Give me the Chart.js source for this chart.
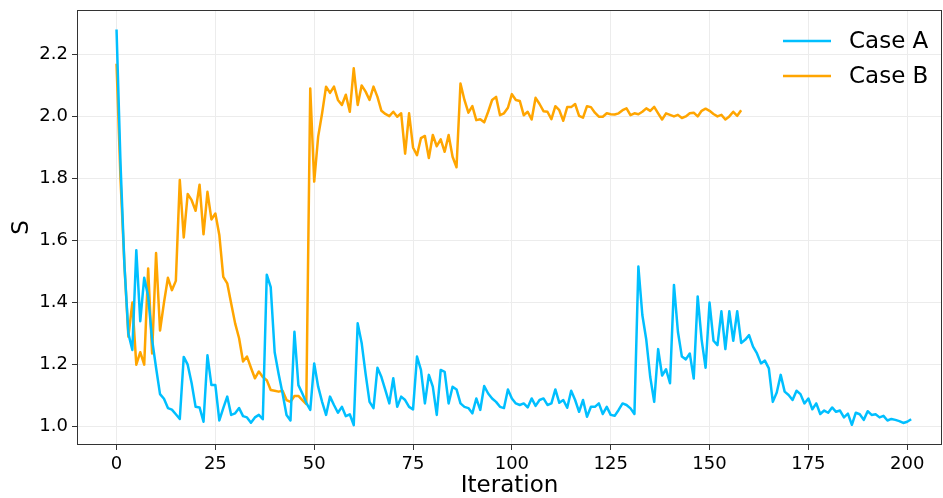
<!DOCTYPE html>
<html>
<head>
<meta charset="utf-8">
<script src="https://cdn.jsdelivr.net/npm/chart.js@4/dist/chart.umd.min.js"></script>
<style>
  html, body { margin: 0; padding: 0; background: #fff; }
  #wrap { width: 943px; height: 498px; position: relative; }
</style>
</head>
<body>
<div id="wrap"><canvas id="c" width="943" height="498"></canvas></div>
<script>
// ---- data ----
const seriesNames = ["Case A", "Case B"];
const caseA = [
  2.28, 1.85, 1.52, 1.30, 1.247, 1.569, 1.34, 1.48, 1.42, 1.28,
  1.19, 1.105, 1.09, 1.06, 1.055, 1.04, 1.025, 1.225, 1.20, 1.14,
  1.064, 1.062, 1.016, 1.23, 1.134, 1.134, 1.02, 1.06, 1.097, 1.038,
  1.043, 1.06, 1.034, 1.03, 1.013, 1.03, 1.038, 1.024, 1.49, 1.45,
  1.24, 1.17, 1.107, 1.038, 1.02, 1.306, 1.134, 1.107, 1.077, 1.054,
  1.204, 1.129, 1.08, 1.038, 1.097, 1.07, 1.045, 1.064, 1.034, 1.04,
  1.005, 1.333, 1.27, 1.17, 1.08, 1.06, 1.19, 1.16, 1.118, 1.075,
  1.156, 1.064, 1.097, 1.086, 1.064, 1.056, 1.226, 1.183, 1.075, 1.167,
  1.129, 1.038, 1.183, 1.177, 1.075, 1.129, 1.12, 1.075, 1.064, 1.06,
  1.043, 1.091, 1.054, 1.131, 1.107, 1.091, 1.08, 1.064, 1.06, 1.12,
  1.091, 1.075, 1.07, 1.075, 1.062, 1.091, 1.067, 1.086, 1.091, 1.07,
  1.075, 1.12, 1.077, 1.086, 1.061, 1.116, 1.086, 1.048, 1.086, 1.032,
  1.064, 1.064, 1.075, 1.041, 1.064, 1.038, 1.035, 1.054, 1.075, 1.07,
  1.059, 1.041, 1.516, 1.36, 1.28, 1.16, 1.08, 1.25, 1.165, 1.185,
  1.14, 1.457, 1.306, 1.226, 1.217, 1.236, 1.155, 1.42, 1.28, 1.19,
  1.40, 1.277, 1.263, 1.372, 1.25, 1.372, 1.277, 1.372, 1.27, 1.28,
  1.295, 1.258, 1.236, 1.204, 1.213, 1.188, 1.08, 1.11, 1.167, 1.113,
  1.102, 1.086, 1.116, 1.105, 1.075, 1.091, 1.056, 1.075, 1.041, 1.052,
  1.045, 1.062, 1.048, 1.052, 1.03, 1.042, 1.006, 1.045, 1.04, 1.022,
  1.05, 1.038, 1.04, 1.03, 1.035, 1.02, 1.025, 1.022, 1.018, 1.012,
  1.016, 1.024
];
const caseB = [
  2.17, 1.80, 1.52, 1.29, 1.40, 1.20, 1.24, 1.20, 1.51, 1.236,
  1.56, 1.31, 1.40, 1.48, 1.44, 1.47, 1.795, 1.61, 1.75, 1.73,
  1.696, 1.78, 1.62, 1.757, 1.668, 1.687, 1.618, 1.483, 1.462, 1.397,
  1.333, 1.285, 1.21, 1.226, 1.19, 1.156, 1.178, 1.16, 1.15, 1.118,
  1.116, 1.113, 1.116, 1.086, 1.08, 1.099, 1.099, 1.086, 1.073, 2.09,
  1.79, 1.935, 2.01, 2.096, 2.076, 2.096, 2.053, 2.037, 2.07, 2.015,
  2.155, 2.037, 2.10, 2.08, 2.053, 2.096, 2.063, 2.018, 2.008, 2.001,
  2.015, 1.999, 2.01, 1.88, 2.01, 1.90, 1.875, 1.93, 1.937, 1.866,
  1.94, 1.904, 1.926, 1.886, 1.94, 1.87, 1.836, 2.106, 2.053, 2.012,
  2.033, 1.988, 1.991, 1.981, 2.015, 2.053, 2.063, 2.004, 2.01, 2.028,
  2.072, 2.053, 2.05, 2.004, 2.015, 1.99, 2.06, 2.04, 2.017, 2.015,
  1.991, 2.033, 2.02, 1.986, 2.03, 2.03, 2.04, 2.002, 1.996, 2.033,
  2.03, 2.012, 1.999, 1.999, 2.01, 2.007, 2.006, 2.01, 2.02, 2.026,
  2.004, 2.01, 2.007, 2.015, 2.026, 2.018, 2.031, 2.01, 1.99, 2.01,
  2.005, 2.00, 2.005, 1.995, 2.00, 2.01, 2.012, 2.00, 2.018, 2.025,
  2.018, 2.008, 2.00, 2.005, 1.99, 2.00, 2.015, 2.002, 2.02
];
const xTickValues = [0, 25, 50, 75, 100, 125, 150, 175, 200];
const yTickValues = [1.0, 1.2, 1.4, 1.6, 1.8, 2.0, 2.2];
const xTitle = "Iteration";
const yTitle = "S";

// ---- styling ----
const colors = ["#00BFFF", "#FFA500"];
const FONT = "'DejaVu Sans', sans-serif";

function toPoints(arr) { return arr.map((v, i) => ({ x: i, y: v })); }

const frameAndLegend = {
  id: 'frameAndLegend',
  afterDatasetsDraw(chart) {
    const { ctx, chartArea: a } = chart;
    ctx.save();
    ctx.strokeStyle = '#333';
    ctx.lineWidth = 1;
    ctx.strokeRect(a.left + 0.5, a.top + 0.5, a.right - a.left - 1, a.bottom - a.top - 1);
    const ds = chart.data.datasets;
    const rowY = [41, 76];
    ds.forEach((d, k) => {
      ctx.strokeStyle = d.borderColor;
      ctx.lineWidth = 2.5;
      ctx.beginPath();
      ctx.moveTo(783, rowY[k]);
      ctx.lineTo(831, rowY[k]);
      ctx.stroke();
      ctx.fillStyle = '#000';
      ctx.font = '23px ' + FONT;
      ctx.textAlign = 'left';
      ctx.textBaseline = 'middle';
      ctx.fillText(d.label, 849, rowY[k] + 1);
    });
    ctx.restore();
  }
};

new Chart(document.getElementById('c'), {
  type: 'line',
  data: {
    datasets: [
      { label: seriesNames[0], data: toPoints(caseA), borderColor: colors[0], backgroundColor: colors[0] },
      { label: seriesNames[1], data: toPoints(caseB), borderColor: colors[1], backgroundColor: colors[1] }
    ]
  },
  options: {
    responsive: false,
    animation: false,
    devicePixelRatio: 1,
    layout: { padding: { top: 10, right: 1, left: 0, bottom: 0 } },
    elements: {
      point: { radius: 0, hoverRadius: 0 },
      line: { borderWidth: 2.5, tension: 0, borderJoinStyle: 'round', borderCapStyle: 'butt' }
    },
    plugins: { legend: { display: false }, tooltip: { enabled: false } },
    scales: {
      x: {
        type: 'linear',
        min: -10,
        max: 208.8,
        afterBuildTicks(s) { s.ticks = xTickValues.map(v => ({ value: v })); },
        afterFit(s) { s.height = 53; s.paddingLeft = 0; s.paddingRight = 0; },
        grid: { color: '#ececec', lineWidth: 1, tickLength: 5, tickColor: '#333' },
        border: { display: false },
        ticks: { color: '#000', font: { family: FONT, size: 18 }, padding: 4, maxRotation: 0,
                 callback: v => String(v) },
        title: { display: true, text: xTitle, color: '#000', font: { family: FONT, size: 23 }, padding: { top: 0, bottom: -2 } }
      },
      y: {
        type: 'linear',
        min: 0.941,
        max: 2.343,
        afterBuildTicks(s) { s.ticks = yTickValues.map(v => ({ value: v })); },
        afterFit(s) { s.width = 77; s.paddingTop = 0; s.paddingBottom = 0; },
        grid: { color: '#ececec', lineWidth: 1, tickLength: 5, tickColor: '#333' },
        border: { display: false },
        ticks: { color: '#000', font: { family: FONT, size: 18 }, padding: 4,
                 callback: v => Number(v).toFixed(1) },
        title: { display: true, text: yTitle, color: '#000', font: { family: FONT, size: 23 }, padding: { top: 8, bottom: 0 } }
      }
    }
  },
  plugins: [frameAndLegend]
});
</script>
</body>
</html>
